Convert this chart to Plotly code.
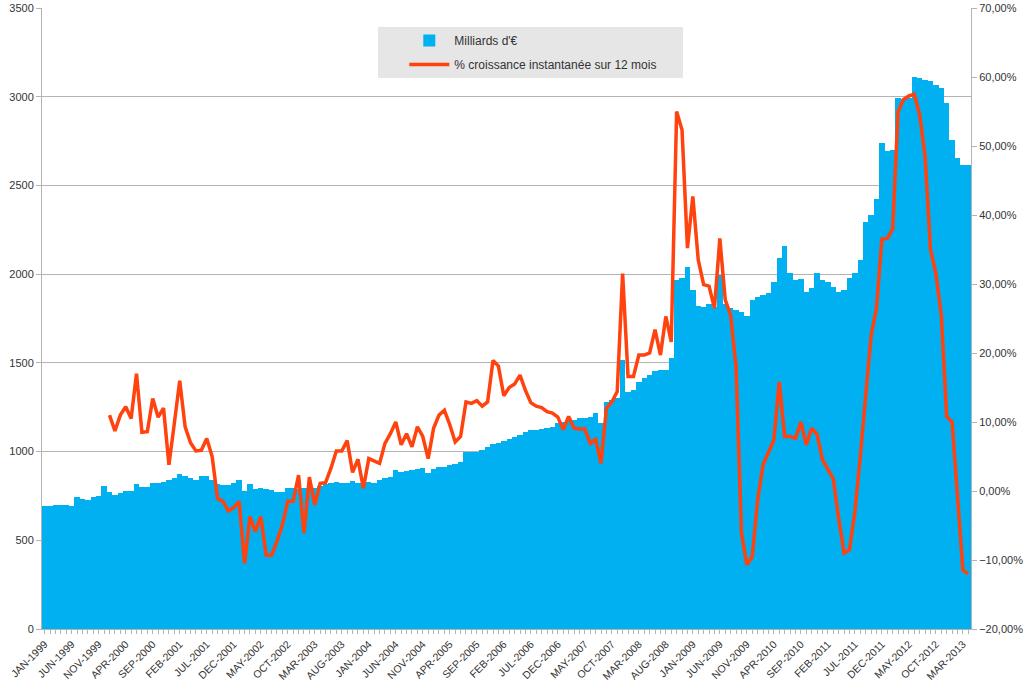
import plotly.graph_objects as go

MONTH_NAMES = ["JAN", "FEB", "MAR", "APR", "MAY", "JUN",
               "JUL", "AUG", "SEP", "OCT", "NOV", "DEC"]
months = [f"{m}-{y}" for y in range(1999, 2014) for m in MONTH_NAMES][:172]

# Milliards d'€ (monthly, JAN-1999 .. APR-2013)
milliards = [
    693, 695, 697, 699, 700, 693, 742, 731, 727, 745, 748, 806,
    774, 755, 768, 780, 780, 815, 802, 802, 825, 825, 830, 840,
    849, 872, 862, 849, 840, 862, 862, 840, 817, 812, 812, 821,
    840, 780, 815, 787, 793, 790, 784, 774, 772, 795, 793, 787,
    793, 799, 793, 806, 817, 821, 830, 825, 821, 836, 821, 830,
    826, 824, 840, 853, 859, 896, 887, 893, 896, 900, 906, 881,
    900, 915, 915, 924, 930, 943, 996, 1000, 1000, 1009, 1028, 1043,
    1046, 1061, 1069, 1084, 1093, 1112, 1122, 1122, 1125, 1131, 1137, 1159,
    1169, 1178, 1178, 1188, 1191, 1193, 1216, 1160, 1280, 1290, 1300, 1516,
    1338, 1345, 1394, 1415, 1432, 1455, 1460, 1460, 1527, 1967, 1978, 2042,
    1911, 1821, 1815, 1830, 1815, 1995, 1830, 1808, 1798, 1789, 1764, 1855,
    1873, 1883, 1896, 1958, 2090, 2159, 2005, 1967, 1972, 1902, 1920, 2009,
    1967, 1958, 1930, 1898, 1911, 1977, 2005, 2080, 2296, 2334, 2422, 2741,
    2696, 2700, 2991, 2986, 2991, 3110, 3103, 3095, 3086, 3067, 3048, 2963,
    2757, 2654, 2616, 2616,
]

# % croissance instantanée sur 12 mois (from JAN-2000)
croissance = [
    11.0, 8.7, 11.0, 12.2, 10.5, 17.0, 8.5, 8.6, 13.4, 10.7, 12.0, 3.8,
    9.8, 16.0, 9.3, 7.0, 5.8, 5.9, 7.6, 5.0, -1.1, -1.5, -2.9, -2.4,
    -1.5, -10.5, -3.7, -5.9, -3.7, -9.3, -9.3, -7.3, -4.9, -1.5, -1.5, 2.3,
    -6.1, 2.0, -2.0, 1.1, 1.2, 3.3, 5.8, 5.8, 7.3, 2.7, 4.6, 0.4,
    4.7, 4.3, 4.0, 6.9, 8.3, 10.0, 6.7, 8.3, 6.4, 9.3, 7.9, 4.7,
    9.1, 11.0, 11.7, 9.6, 7.1, 7.9, 12.9, 12.7, 13.1, 12.3, 12.9, 18.9,
    18.1, 13.8, 15.0, 15.5, 16.8, 14.6, 12.8, 12.3, 12.1, 11.5, 11.3, 10.7,
    8.9, 10.8, 9.1, 9.0, 9.0, 6.9, 7.5, 4.0, 12.0, 12.9, 14.4, 31.5,
    16.6, 16.6, 19.7, 19.7, 20.0, 23.4, 19.7, 25.3, 21.6, 55.0, 52.3, 35.2,
    42.7, 33.5, 29.9, 29.7, 26.5, 36.6, 27.7, 25.5, 18.0, -6.1, -10.7, -9.5,
    -1.3, 3.8, 5.5, 7.4, 15.8, 7.9, 7.9, 7.6, 10.0, 6.7, 9.1, 8.2,
    4.5, 3.0, 1.75, -4.0, -9.0, -8.5, -3.0, 5.0, 14.0, 22.5, 26.5, 36.5,
    36.6, 38.0, 55.0, 56.75, 57.25, 57.5, 54.5, 48.5, 35.0, 31.5, 25.5, 10.75,
    10.0, 0.0, -11.5, -12.0,
]
croissance_months = months[12:12 + len(croissance)]

left_ticks = [0, 500, 1000, 1500, 2000, 2500, 3000, 3500]
right_ticks = [-0.2, -0.1, 0.0, 0.1, 0.2, 0.3, 0.4, 0.5, 0.6, 0.7]
x_ticktext = [m if k % 5 == 0 else "" for k, m in enumerate(months)]

GRID = "#b3b3b3"
FONT = dict(family="Liberation Sans, Arial, sans-serif", size=11, color="#333333")

fig = go.Figure()
fig.add_trace(go.Bar(
    x=months, y=milliards, name="Milliards d'€",
    marker=dict(color="#00b0f0", line=dict(width=0)),
    yaxis="y", legendgroup="a",
))
fig.add_trace(go.Scatter(
    x=croissance_months, y=[v / 100 for v in croissance],
    name="% croissance instantanée sur 12 mois",
    mode="lines", line=dict(color="#ff420e", width=3.5),
    yaxis="y2", legendgroup="b",
))

fig.update_layout(
    template="none",
    width=1024, height=690,
    margin=dict(l=42, r=53, t=8, b=61),
    paper_bgcolor="white", plot_bgcolor="white",
    font=FONT,
    separators=", ",
    bargap=0,
    showlegend=True,
    legend=dict(
        x=0.39, y=0.971, xanchor="left", yanchor="top",
        bgcolor="rgba(0,0,0,0)", borderwidth=0,
        font=dict(size=12, color="#333333"),
        itemwidth=40, traceorder="grouped", tracegroupgap=5,
    ),
    xaxis=dict(
        type="category", range=[-0.5, len(months) - 0.5],
        tickmode="array", tickvals=months, ticktext=x_ticktext,
        tickangle=-45, ticks="outside", ticklen=4, tickcolor=GRID,
        showline=True, linecolor=GRID, showgrid=False, automargin=False,
        tickfont=dict(size=10.5),
    ),
    yaxis=dict(
        range=[0, 3500], tickvals=left_ticks, tickformat="d",
        ticks="outside", ticklen=5, tickcolor=GRID,
        showline=True, linecolor=GRID, showgrid=True, gridcolor=GRID,
        zeroline=False, automargin=False,
    ),
    yaxis2=dict(
        overlaying="y", side="right", range=[-0.2, 0.7],
        tickvals=right_ticks, tickformat=".2%",
        ticks="outside", ticklen=5, tickcolor=GRID,
        showline=True, linecolor=GRID, showgrid=False, zeroline=False,
        automargin=False,
    ),
    shapes=[dict(
        type="rect", xref="paper", yref="paper",
        x0=(378 - 42) / 929, x1=(683 - 42) / 929,
        y0=(629 - 78) / 621, y1=(629 - 27) / 621,
        fillcolor="#e6e6e6", line=dict(width=0), layer="above",
    )],
)

fig.write_html(
    "out.html",
    config={"displayModeBar": False},
    post_script="document.body.style.margin='0';document.body.style.overflow='hidden';",
)
